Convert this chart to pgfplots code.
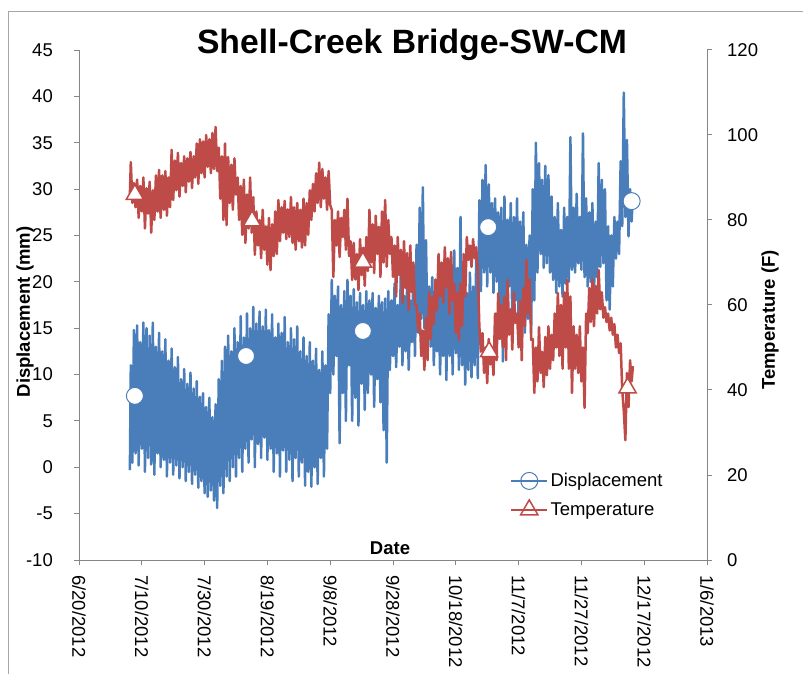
\documentclass[border=0pt]{standalone}
\usepackage{fontspec}
\setmainfont{Liberation Sans}
\usepackage{pgfplots}
\usepackage{pgfplotstable}
\pgfplotsset{compat=1.18}
\definecolor{dblue}{HTML}{4A7EBB}
\definecolor{tred}{HTML}{BE4B48}
\definecolor{axgray}{HTML}{868686}
\pgfplotstableread{
x d t
16.2 -0.3 86.0
16.5 11.0 93.6
17 0.5 84.0
17.5 14.8 88.7
18 1.5 83.0
18.5 15.3 89.5
19 0.2 80.5
19.5 13.5 88.0
20 2.0 82.0
20.5 15.6 90.0
21 -0.5 78.0
21.5 15.0 87.5
22 1.0 81.5
22.5 14.2 89.0
23 0.3 77.0
23.5 15.6 87.0
24 -0.8 80.0
24.5 13.0 90.5
25 1.5 82.0
25.5 14.5 91.8
26 0.0 80.5
26.5 12.5 90.5
27 0.8 82.4
27.5 13.8 91.5
28 -1.0 81.0
28.5 11.5 90.0
29 0.5 83.0
29.5 12.8 96.5
30 -0.8 84.7
30.5 10.8 94.0
31 0.2 87.0
31.5 11.9 95.8
32 -1.2 85.5
32.5 9.5 93.4
33 0.0 88.0
33.5 10.6 95.0
34 -1.5 86.5
34.5 9.0 94.5
35 -0.5 89.0
35.5 10.2 96.0
36 -1.8 87.5
36.5 8.5 95.0
37 -0.8 90.0
37.5 9.3 98.0
38 -2.2 88.5
38.5 7.6 99.0
39 -1.5 91.0
39.5 8.0 98.5
40 -2.8 90.0
40.5 6.5 100.0
41 -3.2 92.5
41.5 7.5 99.0
42 -2.5 91.0
42.5 5.4 100.5
43 -3.6 92.0
43.5 6.8 101.9
44 -4.4 91.5
44.5 9.5 97.0
45 -2.0 85.0
45.5 11.5 95.0
46 -2.8 80.0
46.5 13.0 98.0
47 -1.0 78.8
47.5 14.2 94.8
48 -1.5 84.0
48.5 12.5 93.0
49 0.0 82.4
49.5 15.0 94.5
50 -1.0 86.0
50.5 13.5 90.0
51 1.0 80.0
51.5 16.3 88.0
52 -0.5 76.5
52.5 14.0 89.5
53 2.0 74.6
53.5 16.6 86.0
54 0.5 78.0
54.5 15.0 90.0
55 3.0 77.0
55.5 17.3 85.4
56 0.0 71.8
56.5 15.5 82.0
57 2.5 74.0
57.5 16.8 80.0
58 1.0 71.0
58.5 15.2 82.4
59 3.2 73.0
59.5 17.0 78.5
60 0.8 69.5
60.5 14.8 80.5
61 2.0 68.2
61.5 16.5 79.0
62 -0.5 71.5
62.5 14.0 82.0
63 1.5 72.0
63.5 15.5 84.7
64 -1.0 75.0
64.5 14.5 83.0
65 1.8 77.0
65.5 16.2 84.5
66 -0.5 75.5
66.5 13.5 82.5
67 0.8 76.0
67.5 15.0 85.4
68 -1.5 74.6
68.5 13.8 83.0
69 1.0 73.0
69.5 15.2 84.0
70 -1.0 75.0
70.5 12.5 82.4
71 0.5 73.5
71.5 14.0 85.0
72 -2.0 74.0
72.5 12.0 84.0
73 -0.5 76.5
73.5 13.5 87.0
74 -2.1 80.0
74.5 11.5 88.5
75 0.0 82.0
75.5 12.8 91.0
76 -1.8 84.0
76.5 10.5 93.5
77 1.0 83.0
77.5 12.5 92.0
78 -1.0 85.0
78.5 11.0 90.0
79 2.0 82.4
79.5 16.5 91.5
80 8.0 83.5
80.5 20.2 82.4
81 10.0 66.6
81.5 18.5 80.0
82 12.0 74.0
82.5 19.5 82.0
83 2.6 71.3
83.5 17.5 80.5
84 8.0 76.0
84.5 19.0 82.4
85 5.0 73.0
85.5 20.2 85.0
86 11.0 71.5
86.5 18.5 75.0
87 5.0 65.9
87.5 19.2 74.6
88 7.5 66.0
88.5 17.8 72.0
89 4.5 63.5
89.5 18.8 75.5
90 9.0 67.0
90.5 17.5 73.5
91 6.2 64.5
91.5 19.0 76.0
92 8.0 68.0
92.5 18.0 82.4
93 10.0 70.0
93.5 18.8 79.0
94 6.5 67.5
94.5 17.2 81.0
95 9.5 72.0
95.5 18.5 78.4
96 7.0 66.6
96.5 17.8 82.0
97 4.0 70.0
97.5 18.2 84.7
98 0.5 69.0
98.5 19.0 80.0
99 10.5 72.0
99.5 18.0 76.0
100 12.0 66.6
100.5 19.8 74.0
101 10.8 62.0
101.5 17.5 76.0
102 13.0 67.0
102.5 21.0 73.0
103 11.0 60.5
103.5 18.5 75.0
104 12.5 64.0
104.5 19.5 72.2
105 10.5 58.8
105.5 18.0 74.0
106 13.5 63.0
106.5 20.5 70.0
107 12.0 60.0
107.5 24.0 60.0
108 14.5 54.0
108.5 28.0 58.0
109 16.0 48.0
109.5 30.2 54.0
110 15.0 44.7
110.5 24.5 57.0
111 14.0 47.0
111.5 19.5 63.0
112 13.0 52.0
112.5 20.5 62.0
113 11.0 55.5
113.5 18.0 66.0
114 12.5 58.8
114.5 19.0 72.0
115 10.0 62.0
115.5 21.0 70.0
116 12.0 60.5
116.5 20.0 73.6
117 9.4 64.2
117.5 22.5 71.0
118 12.0 58.0
118.5 21.0 72.5
119 10.0 61.0
119.5 23.4 65.0
120 12.3 53.4
120.5 21.5 63.0
121 10.5 51.8
121.5 27.0 65.0
122 11.0 55.0
122.5 20.0 72.0
123 8.9 62.0
123.5 18.8 76.0
124 10.5 70.6
124.5 21.0 74.0
125 9.7 69.0
125.5 19.5 75.5
126 11.0 71.0
126.5 22.5 73.6
127 9.6 68.0
127.5 28.8 55.0
128 19.0 49.0
128.5 31.0 53.4
129 21.0 44.0
129.5 32.6 50.0
130 19.5 41.6
130.5 30.5 52.0
131 21.0 46.0
131.5 28.5 49.0
132 18.8 43.5
132.5 29.0 58.0
133 20.0 47.0
133.5 27.5 62.8
134 17.0 52.0
134.5 28.0 60.0
135 11.4 50.0
135.5 29.2 62.0
136 16.0 47.0
136.5 26.7 65.9
137 19.5 53.0
137.5 28.5 59.0
138 15.5 49.5
138.5 27.0 63.0
139 18.0 55.8
139.5 29.0 58.0
140 14.5 50.0
140.5 26.5 61.0
141 17.5 47.0
141.5 27.5 64.0
142 14.5 55.0
142.5 24.0 70.6
143 16.0 58.0
143.5 25.0 66.0
144 14.5 51.8
144.5 30.0 52.0
145 18.0 39.3
145.5 35.0 50.0
146 21.0 42.0
146.5 32.8 54.8
147 23.0 44.0
147.5 31.0 49.0
148 21.5 40.7
148.5 32.5 52.5
149 22.0 43.5
149.5 31.5 55.0
150 21.0 45.0
150.5 29.2 53.0
151 20.2 47.0
151.5 27.0 58.0
152 18.8 50.0
152.5 28.5 62.8
153 19.5 48.0
153.5 25.6 60.0
154 18.4 45.0
154.5 28.0 63.0
155 19.8 50.0
155.5 27.0 65.9
156 20.0 45.0
156.5 35.6 62.0
157 21.3 39.3
157.5 28.0 55.0
158 21.0 45.0
158.5 29.5 53.0
159 22.0 44.0
159.5 27.0 55.0
160 21.3 42.0
160.5 36.0 50.0
161 20.5 35.8
161.5 29.0 58.0
162 19.5 53.4
162.5 27.5 64.0
163 20.0 56.0
163.5 28.5 66.0
164 18.5 55.0
164.5 26.5 64.5
165 20.5 58.0
165.5 32.8 68.2
166 21.6 59.0
166.5 31.0 63.0
167 22.0 57.0
167.5 30.0 59.5
168 18.0 56.0
168.5 26.0 58.0
169 17.0 54.0
169.5 25.0 57.0
170 19.5 53.0
170.5 27.0 55.5
171 22.5 50.0
171.5 26.5 53.0
172 23.0 48.7
172.5 33.0 51.0
173 26.0 40.0
173.5 40.4 35.0
174 27.0 28.2
174.5 35.3 44.0
175 24.9 36.0
175.5 30.0 47.0
176 26.5 42.0
176.4 29.6 45.6
}\data
\begin{document}
\begin{tikzpicture}[x=1pt,y=1pt]
\useasboundingbox (0,0) rectangle (803,673);
\draw[color=black!35, line width=1pt] (8,-2) -- (8,661) -- (806,661);
\node[font=\fontsize{33.7}{38}\selectfont\bfseries] at (412,628) {Shell-Creek Bridge-SW-CM};
\node[rotate=90, font=\fontsize{18.5}{22}\selectfont\bfseries] at (25,361) {Displacement (mm)};
\node[rotate=90, font=\fontsize{18.5}{22}\selectfont\bfseries] at (770,353) {Temperature (F)};
\node[font=\fontsize{18.5}{22}\selectfont\bfseries] at (390,125) {Date};
\begin{axis}[
  at={(79pt,113pt)}, anchor=south west,
  scale only axis, width=628pt, height=510pt,
  xmin=0, xmax=200, ymin=-10, ymax=45,
  axis x line*=bottom, axis y line*=left,
  axis line style={axgray, line width=1pt},
  tick style={axgray, line width=1pt},
  tick align=outside, major tick length=5pt,
  xtick={0,20,...,200},
  xticklabels={6/20/2012,7/10/2012,7/30/2012,8/19/2012,9/8/2012,9/28/2012,10/18/2012,11/7/2012,11/27/2012,12/17/2012,1/6/2013},
  ytick={-10,-5,...,45},
  tick label style={font=\fontsize{18.5}{22}\selectfont},
  xticklabel style={rotate=-90, anchor=west, inner sep=0pt},
  yticklabel style={anchor=east, inner sep=0pt},
  xticklabel shift=10pt, yticklabel shift=21pt,
  /pgf/number format/assume math mode=true,
]
\addplot[dblue, line width=2.5pt, line join=round, forget plot] table[x=x,y=d]{\data};
\addplot[only marks, mark=*, mark size=8.5pt, mark options={fill=white, draw=dblue, line width=1pt}, forget plot]
  coordinates {(17.8,7.7) (53.2,12.0) (90.4,14.7) (130.3,25.9) (176.0,28.7)};
\end{axis}
\begin{axis}[
  at={(79pt,113pt)}, anchor=south west,
  scale only axis, width=628pt, height=510pt,
  xmin=0, xmax=200, ymin=0, ymax=120,
  axis x line=none, axis y line*=right,
  axis line style={axgray, line width=1pt},
  tick style={axgray, line width=1pt},
  tick align=outside, major tick length=5pt,
  ytick={0,20,...,120},
  tick label style={font=\fontsize{18.5}{22}\selectfont},
  yticklabel style={anchor=west, inner sep=0pt},
  yticklabel shift=15pt,
  /pgf/number format/assume math mode=true,
  legend style={at={(0.686,0.174)}, anchor=north west, draw=none, fill=none,
    font=\fontsize{18.5}{22}\selectfont, inner sep=0pt, row sep=9.5pt,
    nodes={inner sep=2pt}},
  legend cell align=left,
  legend image code/.code={\draw[#1, only marks] plot coordinates {(18pt,0pt)}; \draw[#1] (0pt,0pt) -- (36pt,0pt);},
]
\addplot[tred, line width=2.5pt, line join=round, forget plot] table[x=x,y=t]{\data};
\addplot[only marks, mark=triangle*, mark size=10pt, mark options={fill=white, draw=tred, line width=1.5pt}, forget plot]
  coordinates {(17.8,86) (55.1,79.8) (90.4,70.1) (130.6,49) (174.7,40.5)};
\addlegendimage{dblue, line width=2.5pt, mark=*, mark size=8.5pt, mark options={fill=white, draw=dblue, line width=1pt}}
\addlegendentry{Displacement}
\addlegendimage{tred, line width=2.5pt, mark=triangle*, mark size=10pt, mark options={fill=white, draw=tred, line width=1.5pt}}
\addlegendentry{Temperature}
\end{axis}
\end{tikzpicture}
\end{document}
